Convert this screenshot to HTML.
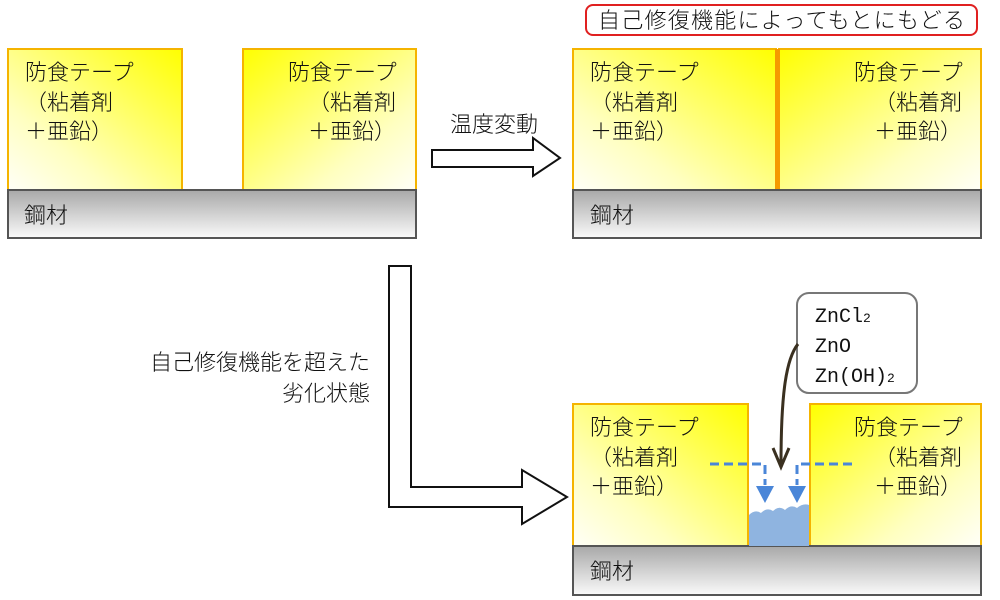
<!DOCTYPE html>
<html><head><meta charset="utf-8"><style>
body{margin:0;background:#fff}
svg{display:block}
text{font-family:"Noto Sans CJK JP","Liberation Sans",sans-serif;font-size:22px;font-weight:300;fill:#111}
</style></head><body>
<svg width="1000" height="600" viewBox="0 0 1000 600" xmlns="http://www.w3.org/2000/svg">
<defs>
<linearGradient id="gL" x1="1" y1="0" x2="0" y2="1"><stop offset="0" stop-color="#ffff00"/><stop offset="0.7" stop-color="#ffffc0"/><stop offset="1" stop-color="#fffff8"/></linearGradient>
<linearGradient id="gR" x1="0" y1="0" x2="1" y2="1"><stop offset="0" stop-color="#ffff00"/><stop offset="0.7" stop-color="#ffffc0"/><stop offset="1" stop-color="#fffff8"/></linearGradient>
<linearGradient id="gS" x1="0" y1="0" x2="0" y2="1"><stop offset="0" stop-color="#a8a8a8"/><stop offset="1" stop-color="#fafafa"/></linearGradient>
</defs>
<g stroke="#f5b400" stroke-width="2">
<rect x="8" y="49" width="174" height="141" fill="url(#gL)"/>
<rect x="243" y="49" width="173" height="141" fill="url(#gR)"/>
<rect x="573" y="49" width="203" height="141" fill="url(#gL)"/>
<rect x="779" y="49" width="202" height="141" fill="url(#gR)"/>
<rect x="573" y="404" width="175" height="142" fill="url(#gL)"/>
<rect x="810" y="404" width="171" height="142" fill="url(#gR)"/>
</g>
<rect x="775" y="49" width="5" height="141" fill="#f59a00"/>
<g stroke="#555" stroke-width="2" fill="url(#gS)">
<rect x="8" y="190" width="408" height="48"/>
<rect x="573" y="190" width="408" height="48"/>
<rect x="573" y="546" width="408" height="49"/>
</g>
<text x="25" y="80">防食テープ</text><text x="25" y="110">（粘着剤</text><text x="25" y="139">＋亜鉛）</text>
<text x="288" y="80">防食テープ</text><text x="308" y="110">（粘着剤</text><text x="308" y="139">＋亜鉛）</text>
<text x="590" y="80">防食テープ</text><text x="590" y="110">（粘着剤</text><text x="590" y="139">＋亜鉛）</text>
<text x="854" y="80">防食テープ</text><text x="874" y="110">（粘着剤</text><text x="874" y="139">＋亜鉛）</text>
<text x="590" y="435">防食テープ</text><text x="590" y="465">（粘着剤</text><text x="590" y="494">＋亜鉛）</text>
<text x="854" y="435">防食テープ</text><text x="874" y="465">（粘着剤</text><text x="874" y="494">＋亜鉛）</text>
<text x="24" y="223">鋼材</text><text x="590" y="223">鋼材</text><text x="590" y="579">鋼材</text>
<rect x="586" y="5" width="391" height="30" rx="7" fill="#fff" stroke="#e02020" stroke-width="2"/>
<text x="598" y="28" textLength="367">自己修復機能によってもとにもどる</text>
<text x="450" y="132">温度変動</text>
<polygon points="432,150 533,150 533,138 560,158 533,176 533,167 432,167" fill="#fff" stroke="#111" stroke-width="2"/>
<polygon points="389,266 411,266 411,487 522,487 522,470 567,497 522,524 522,507 389,507" fill="#fff" stroke="#111" stroke-width="2"/>
<text x="370" y="370" text-anchor="end">自己修復機能を超えた</text>
<text x="370" y="401" text-anchor="end">劣化状態</text>
<path d="M749,515 q6,-6 12,-2 q6,-6 12,-2 q6,-6 12,-1 q6,-6 12,-2 q6,-5 12,-3 V546 H749 Z" fill="#8fb4e0"/>
<g stroke="#4a86d8" stroke-width="3" stroke-dasharray="9,5" fill="none">
<path d="M710,464 H765 V485"/><path d="M852,464 H797 V485"/>
</g>
<polygon points="756,486 774,486 765,503" fill="#4a86d8"/>
<polygon points="788,486 806,486 797,503" fill="#4a86d8"/>
<rect x="797" y="293" width="120" height="100" rx="12" fill="#fff" stroke="#777" stroke-width="2"/>
<text x="815" y="322" style="font-family:'Liberation Mono',monospace;font-size:20px">ZnCl<tspan font-size="13">2</tspan></text>
<text x="815" y="352" style="font-family:'Liberation Mono',monospace;font-size:20px">ZnO</text>
<text x="815" y="382" style="font-family:'Liberation Mono',monospace;font-size:20px">Zn(OH)<tspan font-size="13">2</tspan></text>
<path d="M798,344 C785,360 781,400 781,465" stroke="#3a3020" stroke-width="3" fill="none"/>
<polyline points="773,448 781,467 789,448" stroke="#3a3020" stroke-width="3" fill="none"/>
</svg>
</body></html>
